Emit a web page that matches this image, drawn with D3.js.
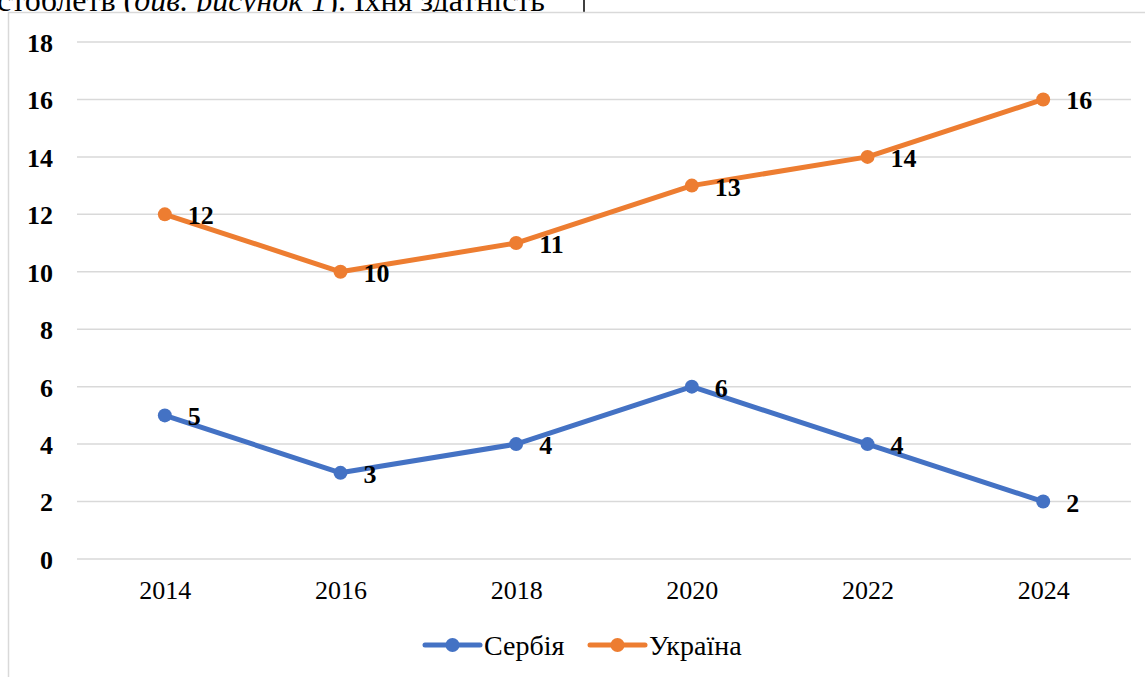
<!DOCTYPE html>
<html><head><meta charset="utf-8">
<script src="https://cdn.jsdelivr.net/npm/d3@7"></script>
<style>body{margin:0;background:#fff;overflow:hidden}svg{display:block}</style>
</head><body>
<svg id="c" width="1145" height="677"></svg>
<script>
const years = ["2014","2016","2018","2020","2022","2024"];
const serbia = [5,3,4,6,4,2];
const ukraine = [12,10,11,13,14,16];
const yTicks = [0,2,4,6,8,10,12,14,16,18];
const seriesNames = ["Сербія","Україна"];
const seriesColors = ["#4472C4","#ED7D31"];
const topText = "стоблетв (";
const topItalic = "див. рисунок 1";
const topText2 = "). Їхня здатність";

const svg = d3.select("#c");
const font = "Liberation Serif, Times New Roman, serif";

// surrounding document text
const tt = svg.append("text").attr("x",-3).attr("y",11).style("font-family",font).style("font-size","32px").attr("fill","#000");
tt.append("tspan").text(topText);
tt.append("tspan").attr("font-style","italic").text(topItalic);
tt.append("tspan").text(topText2);
svg.append("line").attr("x1",584).attr("x2",584).attr("y1",0).attr("y2",12).attr("stroke","#000").attr("stroke-width",1.5);

// chart frame
svg.append("rect").attr("x",8.5).attr("y",12.5).attr("width",1160).attr("height",700)
  .attr("fill","#fff").attr("stroke","#d9d9d9").attr("stroke-width",1.5);

const x = d3.scalePoint().domain(years).range([77,1131]).padding(0.5);
const y = d3.scaleLinear().domain([0,18]).range([559,42]);

// gridlines
svg.append("g").selectAll("line").data(yTicks).join("line")
  .attr("x1",77).attr("x2",1131).attr("y1",d=>y(d)).attr("y2",d=>y(d))
  .attr("stroke","#d9d9d9").attr("stroke-width",1.5);

// y axis labels
const yAxis = d3.axisLeft(y).tickValues(yTicks).tickSize(0).tickPadding(0);
const gy = svg.append("g").attr("transform","translate(53,0)").call(yAxis);
gy.select(".domain").remove();
gy.attr("font-family",null).attr("font-size",null);
gy.selectAll("text").style("font-family",font).style("font-size","26px").style("font-weight","bold").attr("fill","#000").attr("dy","0.36em");

// x axis labels
const xAxis = d3.axisBottom(x).tickSize(0).tickPadding(0);
const gx = svg.append("g").attr("transform","translate(0,580)").call(xAxis);
gx.select(".domain").remove();
gx.attr("font-family",null).attr("font-size",null);
gx.selectAll("text").style("font-family",font).style("font-size","26px").attr("fill","#000").attr("dy","0.72em");

const allSeries = [serbia, ukraine];
const line = d3.line().x((d,i)=>x(years[i])).y(d=>y(d));
allSeries.forEach((vals,si)=>{
  const g = svg.append("g");
  g.append("path").datum(vals).attr("d",line).attr("fill","none")
    .attr("stroke",seriesColors[si]).attr("stroke-width",5).attr("stroke-linejoin","round").attr("stroke-linecap","round");
  g.selectAll("circle").data(vals).join("circle")
    .attr("cx",(d,i)=>x(years[i])).attr("cy",d=>y(d)).attr("r",7).attr("fill",seriesColors[si]);
  g.selectAll("text").data(vals).join("text")
    .attr("x",(d,i)=>x(years[i])+23).attr("y",d=>y(d)+10)
    .style("font-family",font).style("font-size","26px").style("font-weight","bold").attr("fill","#000")
    .text(d=>d);
});

// legend
const legX = [425,590];
seriesNames.forEach((n,i)=>{
  const g = svg.append("g");
  g.append("line").attr("x1",legX[i]).attr("x2",legX[i]+55).attr("y1",645).attr("y2",645)
    .attr("stroke",seriesColors[i]).attr("stroke-width",5).attr("stroke-linecap","round");
  g.append("circle").attr("cx",legX[i]+27.5).attr("cy",645).attr("r",7).attr("fill",seriesColors[i]);
  g.append("text").attr("x",legX[i]+59).attr("y",655).style("font-family",font).style("font-size","28px").attr("fill","#000").text(n);
});
</script>
</body></html>
